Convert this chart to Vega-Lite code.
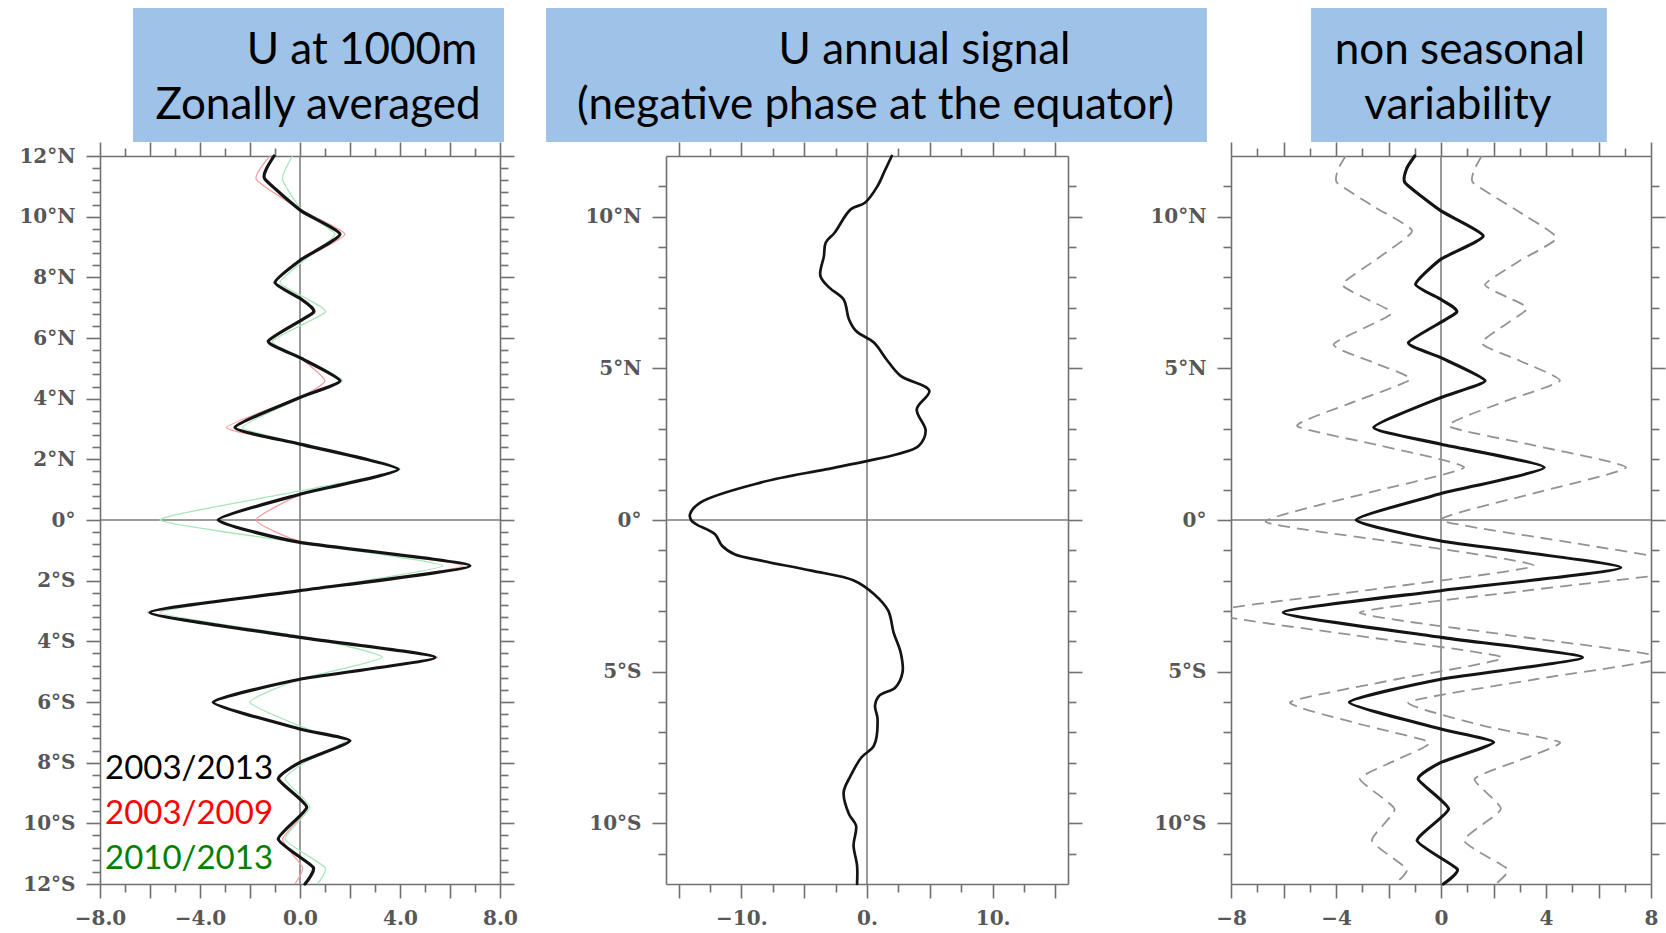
{
  "$schema": "https://vega.github.io/schema/vega-lite/v6.json",
  "background": "white",
  "autosize": {"type": "pad"},
  "padding": {"left": 18, "top": 7, "right": 0, "bottom": 0},
  "spacing": 0,
  "bounds": "flush",
  "config": {
    "view": {"stroke": null},
    "axis": {
      "grid": false,
      "title": null,
      "domainColor": "#707070",
      "domainWidth": 1.6,
      "tickColor": "#707070",
      "tickWidth": 1.6,
      "labelFont": "DejaVu Serif",
      "labelFontSize": 20,
      "labelFontWeight": "bold",
      "labelColor": "#575757",
      "labelFlush": false,
      "labelOverlap": false
    },
    "axisX": {"labelPadding": 10},
    "axisY": {"labelPadding": 11},
    "text": {"font": "Lato"}
  },
  "datasets": {
    "annual_mean": [
      {"lat": 12.0, "u": -1.04, "period": "2003/2013"},
      {"lat": 11.6, "u": -1.33, "period": "2003/2013"},
      {"lat": 11.23, "u": -1.4, "period": "2003/2013"},
      {"lat": 10.19, "u": 0.05, "period": "2003/2013"},
      {"lat": 9.42, "u": 1.6, "period": "2003/2013"},
      {"lat": 8.59, "u": 0.05, "period": "2003/2013"},
      {"lat": 7.83, "u": -1.0, "period": "2003/2013"},
      {"lat": 7.28, "u": 0.05, "period": "2003/2013"},
      {"lat": 6.84, "u": 0.53, "period": "2003/2013"},
      {"lat": 5.9, "u": -1.27, "period": "2003/2013"},
      {"lat": 5.35, "u": 0.0, "period": "2003/2013"},
      {"lat": 4.59, "u": 1.6, "period": "2003/2013"},
      {"lat": 4.04, "u": 0.0, "period": "2003/2013"},
      {"lat": 3.05, "u": -2.6, "period": "2003/2013"},
      {"lat": 2.5, "u": 0.0, "period": "2003/2013"},
      {"lat": 1.67, "u": 3.93, "period": "2003/2013"},
      {"lat": 0.85, "u": 0.0, "period": "2003/2013"},
      {"lat": 0.0, "u": -3.27, "period": "2003/2013"},
      {"lat": -0.74, "u": 0.0, "period": "2003/2013"},
      {"lat": -1.51, "u": 6.8, "period": "2003/2013"},
      {"lat": -2.33, "u": 0.0, "period": "2003/2013"},
      {"lat": -3.05, "u": -6.0, "period": "2003/2013"},
      {"lat": -3.87, "u": 0.0, "period": "2003/2013"},
      {"lat": -4.53, "u": 5.4, "period": "2003/2013"},
      {"lat": -5.25, "u": 0.0, "period": "2003/2013"},
      {"lat": -6.01, "u": -3.47, "period": "2003/2013"},
      {"lat": -6.89, "u": 0.0, "period": "2003/2013"},
      {"lat": -7.28, "u": 2.0, "period": "2003/2013"},
      {"lat": -7.99, "u": 0.0, "period": "2003/2013"},
      {"lat": -8.54, "u": -0.87, "period": "2003/2013"},
      {"lat": -9.47, "u": 0.27, "period": "2003/2013"},
      {"lat": -10.52, "u": -0.87, "period": "2003/2013"},
      {"lat": -11.45, "u": 0.53, "period": "2003/2013"},
      {"lat": -12.0, "u": 0.2, "period": "2003/2013"},

      {"lat": 12.0, "u": -1.2, "period": "2003/2009"},
      {"lat": 11.23, "u": -1.75, "period": "2003/2009"},
      {"lat": 10.19, "u": 0.1, "period": "2003/2009"},
      {"lat": 9.42, "u": 1.8, "period": "2003/2009"},
      {"lat": 8.59, "u": 0.1, "period": "2003/2009"},
      {"lat": 7.83, "u": -1.0, "period": "2003/2009"},
      {"lat": 7.28, "u": 0.1, "period": "2003/2009"},
      {"lat": 6.84, "u": 0.6, "period": "2003/2009"},
      {"lat": 5.9, "u": -1.2, "period": "2003/2009"},
      {"lat": 5.35, "u": 0.0, "period": "2003/2009"},
      {"lat": 4.59, "u": 1.0, "period": "2003/2009"},
      {"lat": 4.04, "u": 0.0, "period": "2003/2009"},
      {"lat": 3.05, "u": -2.95, "period": "2003/2009"},
      {"lat": 2.5, "u": 0.0, "period": "2003/2009"},
      {"lat": 1.67, "u": 3.9, "period": "2003/2009"},
      {"lat": 0.85, "u": 0.1, "period": "2003/2009"},
      {"lat": 0.0, "u": -1.75, "period": "2003/2009"},
      {"lat": -0.74, "u": 0.2, "period": "2003/2009"},
      {"lat": -1.51, "u": 6.5, "period": "2003/2009"},
      {"lat": -2.33, "u": 0.0, "period": "2003/2009"},
      {"lat": -3.05, "u": -6.1, "period": "2003/2009"},
      {"lat": -3.87, "u": 0.0, "period": "2003/2009"},
      {"lat": -4.53, "u": 5.5, "period": "2003/2009"},
      {"lat": -5.25, "u": 0.0, "period": "2003/2009"},
      {"lat": -6.01, "u": -3.5, "period": "2003/2009"},
      {"lat": -6.89, "u": 0.0, "period": "2003/2009"},
      {"lat": -7.28, "u": 2.0, "period": "2003/2009"},
      {"lat": -7.99, "u": 0.0, "period": "2003/2009"},
      {"lat": -8.54, "u": -0.8, "period": "2003/2009"},
      {"lat": -9.47, "u": 0.3, "period": "2003/2009"},
      {"lat": -10.52, "u": -0.7, "period": "2003/2009"},
      {"lat": -11.45, "u": 0.1, "period": "2003/2009"},
      {"lat": -12.0, "u": -0.2, "period": "2003/2009"},

      {"lat": 12.0, "u": -0.3, "period": "2010/2013"},
      {"lat": 11.23, "u": -0.7, "period": "2010/2013"},
      {"lat": 10.19, "u": 0.1, "period": "2010/2013"},
      {"lat": 9.42, "u": 1.4, "period": "2010/2013"},
      {"lat": 8.59, "u": 0.2, "period": "2010/2013"},
      {"lat": 7.83, "u": -0.8, "period": "2010/2013"},
      {"lat": 7.28, "u": 0.3, "period": "2010/2013"},
      {"lat": 6.84, "u": 1.0, "period": "2010/2013"},
      {"lat": 5.9, "u": -1.1, "period": "2010/2013"},
      {"lat": 5.35, "u": 0.1, "period": "2010/2013"},
      {"lat": 4.59, "u": 1.7, "period": "2010/2013"},
      {"lat": 4.04, "u": 0.1, "period": "2010/2013"},
      {"lat": 3.05, "u": -2.3, "period": "2010/2013"},
      {"lat": 2.5, "u": 0.2, "period": "2010/2013"},
      {"lat": 1.67, "u": 4.0, "period": "2010/2013"},
      {"lat": 0.85, "u": -0.7, "period": "2010/2013"},
      {"lat": 0.0, "u": -5.6, "period": "2010/2013"},
      {"lat": -0.74, "u": -0.1, "period": "2010/2013"},
      {"lat": -1.51, "u": 5.7, "period": "2010/2013"},
      {"lat": -2.33, "u": 0.0, "period": "2010/2013"},
      {"lat": -3.05, "u": -5.6, "period": "2010/2013"},
      {"lat": -3.87, "u": 0.3, "period": "2010/2013"},
      {"lat": -4.53, "u": 3.3, "period": "2010/2013"},
      {"lat": -5.25, "u": 0.0, "period": "2010/2013"},
      {"lat": -6.01, "u": -2.0, "period": "2010/2013"},
      {"lat": -6.89, "u": 0.3, "period": "2010/2013"},
      {"lat": -7.28, "u": 1.8, "period": "2010/2013"},
      {"lat": -7.99, "u": 0.2, "period": "2010/2013"},
      {"lat": -8.54, "u": -0.6, "period": "2010/2013"},
      {"lat": -9.47, "u": 0.4, "period": "2010/2013"},
      {"lat": -10.52, "u": -0.6, "period": "2010/2013"},
      {"lat": -11.45, "u": 1.0, "period": "2010/2013"},
      {"lat": -12.0, "u": 0.7, "period": "2010/2013"}
    ],
    "annual_signal": [
      {"lat": 12.0, "u": 1.97}, {"lat": 11.5, "u": 1.4}, {"lat": 11.01, "u": 0.84},
      {"lat": 10.46, "u": -0.16}, {"lat": 10.24, "u": -1.3}, {"lat": 9.47, "u": -2.58},
      {"lat": 9.14, "u": -3.29}, {"lat": 8.7, "u": -3.43}, {"lat": 8.05, "u": -3.71},
      {"lat": 7.66, "u": -3.0}, {"lat": 7.27, "u": -1.86}, {"lat": 6.62, "u": -1.44},
      {"lat": 6.23, "u": -0.87}, {"lat": 5.85, "u": 0.55}, {"lat": 5.3, "u": 1.54},
      {"lat": 4.75, "u": 2.68}, {"lat": 4.26, "u": 4.96}, {"lat": 3.65, "u": 3.96},
      {"lat": 2.94, "u": 4.67}, {"lat": 2.44, "u": 4.11}, {"lat": 2.17, "u": 2.4},
      {"lat": 1.95, "u": 0.07}, {"lat": 1.67, "u": -3.29}, {"lat": 1.24, "u": -8.41},
      {"lat": 0.58, "u": -13.24}, {"lat": 0.19, "u": -14.09}, {"lat": 0.0, "u": -14.0},
      {"lat": -0.14, "u": -13.6}, {"lat": -0.47, "u": -12.1}, {"lat": -0.85, "u": -11.54},
      {"lat": -1.13, "u": -10.54}, {"lat": -1.34, "u": -8.41}, {"lat": -1.67, "u": -4.43},
      {"lat": -2.0, "u": -1.01}, {"lat": -2.44, "u": 0.55}, {"lat": -2.99, "u": 1.69},
      {"lat": -3.71, "u": 2.12}, {"lat": -4.37, "u": 2.68}, {"lat": -5.02, "u": 2.83},
      {"lat": -5.52, "u": 2.26}, {"lat": -5.79, "u": 0.98}, {"lat": -6.12, "u": 0.64},
      {"lat": -6.56, "u": 0.84}, {"lat": -7.44, "u": 0.55}, {"lat": -7.83, "u": -0.45},
      {"lat": -8.43, "u": -1.3}, {"lat": -8.98, "u": -1.86}, {"lat": -9.69, "u": -1.44},
      {"lat": -10.08, "u": -0.87}, {"lat": -10.73, "u": -1.07}, {"lat": -11.39, "u": -0.79},
      {"lat": -12.0, "u": -0.79}
    ],
    "nonseasonal": [
      {"lat": 12.0, "u": -1.0, "curve": "anomaly"},
      {"lat": 11.6, "u": -1.3, "curve": "anomaly"},
      {"lat": 11.12, "u": -1.37, "curve": "anomaly"},
      {"lat": 10.19, "u": 0.0, "curve": "anomaly"},
      {"lat": 9.36, "u": 1.61, "curve": "anomaly"},
      {"lat": 8.6, "u": 0.0, "curve": "anomaly"},
      {"lat": 7.77, "u": -0.97, "curve": "anomaly"},
      {"lat": 7.27, "u": 0.0, "curve": "anomaly"},
      {"lat": 6.84, "u": 0.59, "curve": "anomaly"},
      {"lat": 5.85, "u": -1.24, "curve": "anomaly"},
      {"lat": 5.35, "u": 0.0, "curve": "anomaly"},
      {"lat": 4.59, "u": 1.68, "curve": "anomaly"},
      {"lat": 4.04, "u": 0.0, "curve": "anomaly"},
      {"lat": 3.05, "u": -2.56, "curve": "anomaly"},
      {"lat": 2.5, "u": 0.0, "curve": "anomaly"},
      {"lat": 1.73, "u": 3.93, "curve": "anomaly"},
      {"lat": 0.87, "u": 0.0, "curve": "anomaly"},
      {"lat": 0.0, "u": -3.23, "curve": "anomaly"},
      {"lat": -0.69, "u": 0.0, "curve": "anomaly"},
      {"lat": -1.57, "u": 6.85, "curve": "anomaly"},
      {"lat": -2.33, "u": 0.0, "curve": "anomaly"},
      {"lat": -3.05, "u": -6.01, "curve": "anomaly"},
      {"lat": -3.87, "u": 0.0, "curve": "anomaly"},
      {"lat": -4.53, "u": 5.39, "curve": "anomaly"},
      {"lat": -5.25, "u": 0.0, "curve": "anomaly"},
      {"lat": -6.01, "u": -3.49, "curve": "anomaly"},
      {"lat": -6.89, "u": 0.0, "curve": "anomaly"},
      {"lat": -7.33, "u": 2.01, "curve": "anomaly"},
      {"lat": -7.99, "u": 0.0, "curve": "anomaly"},
      {"lat": -8.54, "u": -0.87, "curve": "anomaly"},
      {"lat": -9.53, "u": 0.29, "curve": "anomaly"},
      {"lat": -10.57, "u": -0.91, "curve": "anomaly"},
      {"lat": -11.51, "u": 0.62, "curve": "anomaly"},
      {"lat": -12.0, "u": 0.09, "curve": "anomaly"},

      {"lat": 12.0, "u": -3.63, "curve": "minus_std"},
      {"lat": 11.6, "u": -3.9, "curve": "minus_std"},
      {"lat": 11.12, "u": -3.96, "curve": "minus_std"},
      {"lat": 10.3, "u": -2.5, "curve": "minus_std"},
      {"lat": 9.53, "u": -1.1, "curve": "minus_std"},
      {"lat": 8.6, "u": -2.45, "curve": "minus_std"},
      {"lat": 7.77, "u": -3.76, "curve": "minus_std"},
      {"lat": 7.27, "u": -2.8, "curve": "minus_std"},
      {"lat": 6.79, "u": -1.9, "curve": "minus_std"},
      {"lat": 5.79, "u": -4.09, "curve": "minus_std"},
      {"lat": 5.2, "u": -2.6, "curve": "minus_std"},
      {"lat": 4.64, "u": -1.17, "curve": "minus_std"},
      {"lat": 3.9, "u": -3.3, "curve": "minus_std"},
      {"lat": 3.1, "u": -5.48, "curve": "minus_std"},
      {"lat": 2.45, "u": -2.3, "curve": "minus_std"},
      {"lat": 1.73, "u": 0.88, "curve": "minus_std"},
      {"lat": 0.87, "u": -2.9, "curve": "minus_std"},
      {"lat": -0.06, "u": -6.68, "curve": "minus_std"},
      {"lat": -0.75, "u": -1.6, "curve": "minus_std"},
      {"lat": -1.51, "u": 3.54, "curve": "minus_std"},
      {"lat": -2.3, "u": -2.7, "curve": "minus_std"},
      {"lat": -3.05, "u": -8.9, "curve": "minus_std"},
      {"lat": -3.8, "u": -3.3, "curve": "minus_std"},
      {"lat": -4.53, "u": 2.34, "curve": "minus_std"},
      {"lat": -5.25, "u": -1.7, "curve": "minus_std"},
      {"lat": -6.01, "u": -5.75, "curve": "minus_std"},
      {"lat": -6.75, "u": -3.0, "curve": "minus_std"},
      {"lat": -7.33, "u": -0.44, "curve": "minus_std"},
      {"lat": -7.95, "u": -1.8, "curve": "minus_std"},
      {"lat": -8.54, "u": -3.09, "curve": "minus_std"},
      {"lat": -9.53, "u": -1.77, "curve": "minus_std"},
      {"lat": -10.57, "u": -2.63, "curve": "minus_std"},
      {"lat": -11.51, "u": -1.3, "curve": "minus_std"},
      {"lat": -12.0, "u": -1.77, "curve": "minus_std"},

      {"lat": 12.0, "u": 1.55, "curve": "plus_std"},
      {"lat": 11.6, "u": 1.3, "curve": "plus_std"},
      {"lat": 11.12, "u": 1.22, "curve": "plus_std"},
      {"lat": 10.25, "u": 2.8, "curve": "plus_std"},
      {"lat": 9.31, "u": 4.4, "curve": "plus_std"},
      {"lat": 8.55, "u": 3.0, "curve": "plus_std"},
      {"lat": 7.77, "u": 1.68, "curve": "plus_std"},
      {"lat": 7.35, "u": 2.5, "curve": "plus_std"},
      {"lat": 6.95, "u": 3.27, "curve": "plus_std"},
      {"lat": 5.85, "u": 1.55, "curve": "plus_std"},
      {"lat": 5.25, "u": 3.0, "curve": "plus_std"},
      {"lat": 4.59, "u": 4.53, "curve": "plus_std"},
      {"lat": 3.9, "u": 2.4, "curve": "plus_std"},
      {"lat": 3.1, "u": 0.29, "curve": "plus_std"},
      {"lat": 2.45, "u": 3.6, "curve": "plus_std"},
      {"lat": 1.73, "u": 7.05, "curve": "plus_std"},
      {"lat": 0.87, "u": 3.5, "curve": "plus_std"},
      {"lat": 0.0, "u": 0.0, "curve": "plus_std"},
      {"lat": -0.75, "u": 5.0, "curve": "plus_std"},
      {"lat": -1.57, "u": 10.1, "curve": "plus_std"},
      {"lat": -2.3, "u": 3.5, "curve": "plus_std"},
      {"lat": -3.05, "u": -3.09, "curve": "plus_std"},
      {"lat": -3.8, "u": 2.6, "curve": "plus_std"},
      {"lat": -4.53, "u": 8.45, "curve": "plus_std"},
      {"lat": -5.25, "u": 3.6, "curve": "plus_std"},
      {"lat": -6.01, "u": -1.24, "curve": "plus_std"},
      {"lat": -6.8, "u": 1.7, "curve": "plus_std"},
      {"lat": -7.33, "u": 4.53, "curve": "plus_std"},
      {"lat": -7.95, "u": 2.9, "curve": "plus_std"},
      {"lat": -8.54, "u": 1.28, "curve": "plus_std"},
      {"lat": -9.53, "u": 2.28, "curve": "plus_std"},
      {"lat": -10.57, "u": 0.88, "curve": "plus_std"},
      {"lat": -11.51, "u": 2.54, "curve": "plus_std"},
      {"lat": -12.0, "u": 2.08, "curve": "plus_std"}
    ]
  },
  "hconcat": [
    {
      "width": 400,
      "height": 728,
      "layer": [
        {
          "data": {"values": [{}]},
          "mark": {"type": "rule", "color": "#7a7a7a", "strokeWidth": 1.5},
          "encoding": {"x": {"datum": 0, "type": "quantitative", "scale": {"domain": [-8, 8], "nice": false, "zero": false}, "axis": null}}
        },
        {
          "data": {"values": [{}]},
          "mark": {"type": "rule", "color": "#7a7a7a", "strokeWidth": 1.5},
          "encoding": {"y": {"datum": 0, "type": "quantitative", "scale": {"domain": [-12, 12], "nice": false, "zero": false}, "axis": null}}
        },
        {
          "data": {"name": "annual_mean"},
          "transform": [{"filter": "datum.period === '2010/2013'"}],
          "mark": {"type": "line", "color": "#a8e6bb", "strokeWidth": 1.3, "interpolate": "cardinal", "tension": 0.5},
          "encoding": {
            "x": {"field": "u", "type": "quantitative", "scale": {"domain": [-8, 8], "nice": false, "zero": false},
                  "axis": {"orient": "bottom", "values": [-7, -5, -3, -1, 1, 3, 5, 7], "labels": false, "domain": false, "tickSize": 8}},
            "y": {"field": "lat", "type": "quantitative", "scale": {"domain": [-12, 12], "nice": false, "zero": false},
                  "axis": {"orient": "left", "labels": false, "domain": false, "tickSize": 8,
                           "values": [-11.6, -11.2, -10.8, -10.4, -9.6, -9.2, -8.8, -8.4, -7.6, -7.2, -6.8, -6.4, -5.6, -5.2, -4.8, -4.4, -3.6, -3.2, -2.8, -2.4, -1.6, -1.2, -0.8, -0.4, 0.4, 0.8, 1.2, 1.6, 2.4, 2.8, 3.2, 3.6, 4.4, 4.8, 5.2, 5.6, 6.4, 6.8, 7.2, 7.6, 8.4, 8.8, 9.2, 9.6, 10.4, 10.8, 11.2, 11.6]}},
            "order": {"field": "lat", "sort": "descending"}
          }
        },
        {
          "data": {"name": "annual_mean"},
          "transform": [{"filter": "datum.period === '2003/2009'"}],
          "mark": {"type": "line", "color": "#f4a0a0", "strokeWidth": 1.3, "interpolate": "cardinal", "tension": 0.5},
          "encoding": {
            "x": {"field": "u", "type": "quantitative", "scale": {"domain": [-8, 8], "nice": false, "zero": false},
                  "axis": {"orient": "top", "values": [-8, -6, -4, -2, 0, 2, 4, 6, 8], "labels": false, "tickSize": 14}},
            "y": {"field": "lat", "type": "quantitative", "scale": {"domain": [-12, 12], "nice": false, "zero": false},
                  "axis": {"orient": "right", "values": [-12, -10, -8, -6, -4, -2, 0, 2, 4, 6, 8, 10, 12], "labels": false, "tickSize": 14}},
            "order": {"field": "lat", "sort": "descending"}
          }
        },
        {
          "data": {"name": "annual_mean"},
          "transform": [{"filter": "datum.period === '2003/2013'"}],
          "mark": {"type": "line", "color": "#141414", "strokeWidth": 3.2, "strokeJoin": "round", "strokeCap": "round", "interpolate": "cardinal", "tension": 0.5},
          "encoding": {
            "x": {"field": "u", "type": "quantitative", "scale": {"domain": [-8, 8], "nice": false, "zero": false},
                  "axis": {"orient": "bottom", "values": [-8, -6, -4, -2, 0, 2, 4, 6, 8], "tickSize": 14,
                           "labelExpr": "datum.value % 4 === 0 ? format(datum.value, '.1f') : ''"}},
            "y": {"field": "lat", "type": "quantitative", "scale": {"domain": [-12, 12], "nice": false, "zero": false},
                  "axis": {"orient": "left", "values": [-12, -10, -8, -6, -4, -2, 0, 2, 4, 6, 8, 10, 12], "tickSize": 14,
                           "labelExpr": "datum.value === 0 ? '0°' : format(abs(datum.value), 'd') + (datum.value > 0 ? '°N' : '°S')"}},
            "order": {"field": "lat", "sort": "descending"}
          }
        },
        {
          "data": {"name": "annual_mean"},
          "transform": [{"filter": "datum.period === '2003/2013'"}],
          "mark": {"type": "line", "strokeOpacity": 0},
          "encoding": {
            "x": {"field": "u", "type": "quantitative", "scale": {"domain": [-8, 8], "nice": false, "zero": false},
                  "axis": {"orient": "top", "values": [-7, -5, -3, -1, 1, 3, 5, 7], "labels": false, "domain": false, "tickSize": 8}},
            "y": {"field": "lat", "type": "quantitative", "scale": {"domain": [-12, 12], "nice": false, "zero": false},
                  "axis": {"orient": "right", "labels": false, "domain": false, "tickSize": 8,
                           "values": [-11.6, -11.2, -10.8, -10.4, -9.6, -9.2, -8.8, -8.4, -7.6, -7.2, -6.8, -6.4, -5.6, -5.2, -4.8, -4.4, -3.6, -3.2, -2.8, -2.4, -1.6, -1.2, -0.8, -0.4, 0.4, 0.8, 1.2, 1.6, 2.4, 2.8, 3.2, 3.6, 4.4, 4.8, 5.2, 5.6, 6.4, 6.8, 7.2, 7.6, 8.4, 8.8, 9.2, 9.6, 10.4, 10.8, 11.2, 11.6]}},
            "order": {"field": "lat", "sort": "descending"}
          }
        },
        {
          "data": {"values": [{}]},
          "mark": {"type": "rect", "color": "#9fc3e8"},
          "encoding": {
            "x": {"datum": -6.68, "type": "quantitative", "scale": {"domain": [-8, 8], "nice": false, "zero": false}, "axis": null},
            "x2": {"datum": 8.16},
            "y": {"datum": 16.88, "type": "quantitative", "scale": {"domain": [-12, 12], "nice": false, "zero": false}, "axis": null},
            "y2": {"datum": 12.46}
          }
        },
        {
          "data": {"values": [{}]},
          "mark": {"type": "text", "text": "U at 1000m", "font": "Lato", "fontSize": 44, "align": "center", "baseline": "alphabetic", "color": "#000000"},
          "encoding": {
            "x": {"datum": 2.48, "type": "quantitative", "scale": {"domain": [-8, 8], "nice": false, "zero": false}, "axis": null},
            "y": {"datum": 15.03, "type": "quantitative", "scale": {"domain": [-12, 12], "nice": false, "zero": false}, "axis": null}
          }
        },
        {
          "data": {"values": [{}]},
          "mark": {"type": "text", "text": "Zonally averaged", "font": "Lato", "fontSize": 44, "align": "center", "baseline": "alphabetic", "color": "#000000"},
          "encoding": {
            "x": {"datum": 0.72, "type": "quantitative", "scale": {"domain": [-8, 8], "nice": false, "zero": false}, "axis": null},
            "y": {"datum": 13.22, "type": "quantitative", "scale": {"domain": [-12, 12], "nice": false, "zero": false}, "axis": null}
          }
        },
        {
          "data": {"values": [{}]},
          "mark": {"type": "text", "text": "2003/2013", "font": "Lato", "fontSize": 33, "align": "left", "baseline": "alphabetic", "color": "#000000"},
          "encoding": {
            "x": {"datum": -7.8, "type": "quantitative", "scale": {"domain": [-8, 8], "nice": false, "zero": false}, "axis": null},
            "y": {"datum": -8.54, "type": "quantitative", "scale": {"domain": [-12, 12], "nice": false, "zero": false}, "axis": null}
          }
        },
        {
          "data": {"values": [{}]},
          "mark": {"type": "text", "text": "2003/2009", "font": "Lato", "fontSize": 33, "align": "left", "baseline": "alphabetic", "color": "#ff0000"},
          "encoding": {
            "x": {"datum": -7.8, "type": "quantitative", "scale": {"domain": [-8, 8], "nice": false, "zero": false}, "axis": null},
            "y": {"datum": -10.02, "type": "quantitative", "scale": {"domain": [-12, 12], "nice": false, "zero": false}, "axis": null}
          }
        },
        {
          "data": {"values": [{}]},
          "mark": {"type": "text", "text": "2010/2013", "font": "Lato", "fontSize": 33, "align": "left", "baseline": "alphabetic", "color": "#008000"},
          "encoding": {
            "x": {"datum": -7.8, "type": "quantitative", "scale": {"domain": [-8, 8], "nice": false, "zero": false}, "axis": null},
            "y": {"datum": -11.51, "type": "quantitative", "scale": {"domain": [-12, 12], "nice": false, "zero": false}, "axis": null}
          }
        }
      ],
      "resolve": {"axis": {"x": "independent", "y": "independent"}}
    },
    {
      "width": 166,
      "height": 728,
      "data": {"values": []},
      "mark": {"type": "point", "opacity": 0}
    },
    {
      "width": 402,
      "height": 728,
      "layer": [
        {
          "data": {"values": [{}]},
          "mark": {"type": "rule", "color": "#7a7a7a", "strokeWidth": 1.5},
          "encoding": {"x": {"datum": 0, "type": "quantitative", "scale": {"domain": [-16, 16], "nice": false, "zero": false}, "axis": null}}
        },
        {
          "data": {"values": [{}]},
          "mark": {"type": "rule", "color": "#7a7a7a", "strokeWidth": 1.5},
          "encoding": {"y": {"datum": 0, "type": "quantitative", "scale": {"domain": [-12, 12], "nice": false, "zero": false}, "axis": null}}
        },
        {
          "data": {"name": "annual_signal"},
          "mark": {"type": "line", "strokeOpacity": 0},
          "encoding": {
            "x": {"field": "u", "type": "quantitative", "scale": {"domain": [-16, 16], "nice": false, "zero": false},
                  "axis": {"orient": "bottom", "values": [-12.5, -7.5, -2.5, 2.5, 7.5, 12.5], "labels": false, "domain": false, "tickSize": 8}},
            "y": {"field": "lat", "type": "quantitative", "scale": {"domain": [-12, 12], "nice": false, "zero": false},
                  "axis": {"orient": "left", "values": [-11, -9, -8, -7, -6, -4, -3, -2, -1, 1, 2, 3, 4, 6, 7, 8, 9, 11], "labels": false, "domain": false, "tickSize": 8}},
            "order": {"field": "lat", "sort": "descending"}
          }
        },
        {
          "data": {"name": "annual_signal"},
          "mark": {"type": "line", "strokeOpacity": 0},
          "encoding": {
            "x": {"field": "u", "type": "quantitative", "scale": {"domain": [-16, 16], "nice": false, "zero": false},
                  "axis": {"orient": "top", "values": [-15, -10, -5, 0, 5, 10, 15], "labels": false, "tickSize": 14}},
            "y": {"field": "lat", "type": "quantitative", "scale": {"domain": [-12, 12], "nice": false, "zero": false},
                  "axis": {"orient": "right", "values": [-10, -5, 0, 5, 10], "labels": false, "tickSize": 14}},
            "order": {"field": "lat", "sort": "descending"}
          }
        },
        {
          "data": {"name": "annual_signal"},
          "mark": {"type": "line", "strokeOpacity": 0},
          "encoding": {
            "x": {"field": "u", "type": "quantitative", "scale": {"domain": [-16, 16], "nice": false, "zero": false},
                  "axis": {"orient": "top", "values": [-12.5, -7.5, -2.5, 2.5, 7.5, 12.5], "labels": false, "domain": false, "tickSize": 8}},
            "y": {"field": "lat", "type": "quantitative", "scale": {"domain": [-12, 12], "nice": false, "zero": false},
                  "axis": {"orient": "right", "values": [-11, -9, -8, -7, -6, -4, -3, -2, -1, 1, 2, 3, 4, 6, 7, 8, 9, 11], "labels": false, "domain": false, "tickSize": 8}},
            "order": {"field": "lat", "sort": "descending"}
          }
        },
        {
          "data": {"name": "annual_signal"},
          "mark": {"type": "line", "color": "#141414", "strokeWidth": 2.7, "strokeJoin": "round", "strokeCap": "round", "interpolate": "catmull-rom"},
          "encoding": {
            "x": {"field": "u", "type": "quantitative", "scale": {"domain": [-16, 16], "nice": false, "zero": false},
                  "axis": {"orient": "bottom", "values": [-15, -10, -5, 0, 5, 10, 15], "tickSize": 14,
                           "labelExpr": "datum.value % 10 === 0 ? format(datum.value, 'd') + '.' : ''"}},
            "y": {"field": "lat", "type": "quantitative", "scale": {"domain": [-12, 12], "nice": false, "zero": false},
                  "axis": {"orient": "left", "values": [-10, -5, 0, 5, 10], "tickSize": 14,
                           "labelExpr": "datum.value === 0 ? '0°' : format(abs(datum.value), 'd') + (datum.value > 0 ? '°N' : '°S')"}},
            "order": {"field": "lat", "sort": "descending"}
          }
        },
        {
          "data": {"values": [{}]},
          "mark": {"type": "rect", "color": "#9fc3e8"},
          "encoding": {
            "x": {"datum": -25.55, "type": "quantitative", "scale": {"domain": [-16, 16], "nice": false, "zero": false}, "axis": null},
            "x2": {"datum": 27.06},
            "y": {"datum": 16.88, "type": "quantitative", "scale": {"domain": [-12, 12], "nice": false, "zero": false}, "axis": null},
            "y2": {"datum": 12.46}
          }
        },
        {
          "data": {"values": [{}]},
          "mark": {"type": "text", "text": "U annual signal", "font": "Lato", "fontSize": 44, "align": "center", "baseline": "alphabetic", "color": "#000000"},
          "encoding": {
            "x": {"datum": 4.58, "type": "quantitative", "scale": {"domain": [-16, 16], "nice": false, "zero": false}, "axis": null},
            "y": {"datum": 15.03, "type": "quantitative", "scale": {"domain": [-12, 12], "nice": false, "zero": false}, "axis": null}
          }
        },
        {
          "data": {"values": [{}]},
          "mark": {"type": "text", "text": "(negative phase at the equator)", "font": "Lato", "fontSize": 44, "align": "center", "baseline": "alphabetic", "color": "#000000"},
          "encoding": {
            "x": {"datum": 0.68, "type": "quantitative", "scale": {"domain": [-16, 16], "nice": false, "zero": false}, "axis": null},
            "y": {"datum": 13.22, "type": "quantitative", "scale": {"domain": [-12, 12], "nice": false, "zero": false}, "axis": null}
          }
        }
      ],
      "resolve": {"axis": {"x": "independent", "y": "independent"}}
    },
    {
      "width": 163,
      "height": 728,
      "data": {"values": []},
      "mark": {"type": "point", "opacity": 0}
    },
    {
      "width": 420,
      "height": 728,
      "layer": [
        {
          "data": {"values": [{}]},
          "mark": {"type": "rule", "color": "#7a7a7a", "strokeWidth": 1.5},
          "encoding": {"x": {"datum": 0, "type": "quantitative", "scale": {"domain": [-8, 8], "nice": false, "zero": false}, "axis": null}}
        },
        {
          "data": {"values": [{}]},
          "mark": {"type": "rule", "color": "#7a7a7a", "strokeWidth": 1.5},
          "encoding": {"y": {"datum": 0, "type": "quantitative", "scale": {"domain": [-12, 12], "nice": false, "zero": false}, "axis": null}}
        },
        {
          "data": {"name": "nonseasonal"},
          "transform": [{"filter": "datum.curve === 'minus_std'"}],
          "mark": {"type": "line", "color": "#939393", "strokeWidth": 1.8, "strokeDash": [12, 7], "clip": true, "interpolate": "cardinal", "tension": 0.5},
          "encoding": {
            "x": {"field": "u", "type": "quantitative", "scale": {"domain": [-8, 8], "nice": false, "zero": false},
                  "axis": {"orient": "bottom", "values": [-7, -5, -3, -1, 1, 3, 5, 7], "labels": false, "domain": false, "tickSize": 8}},
            "y": {"field": "lat", "type": "quantitative", "scale": {"domain": [-12, 12], "nice": false, "zero": false},
                  "axis": {"orient": "left", "values": [-11, -9, -8, -7, -6, -4, -3, -2, -1, 1, 2, 3, 4, 6, 7, 8, 9, 11], "labels": false, "domain": false, "tickSize": 8}},
            "order": {"field": "lat", "sort": "descending"}
          }
        },
        {
          "data": {"name": "nonseasonal"},
          "transform": [{"filter": "datum.curve === 'plus_std'"}],
          "mark": {"type": "line", "color": "#939393", "strokeWidth": 1.8, "strokeDash": [12, 7], "clip": true, "interpolate": "cardinal", "tension": 0.5},
          "encoding": {
            "x": {"field": "u", "type": "quantitative", "scale": {"domain": [-8, 8], "nice": false, "zero": false},
                  "axis": {"orient": "top", "values": [-8, -6, -4, -2, 0, 2, 4, 6, 8], "labels": false, "tickSize": 14}},
            "y": {"field": "lat", "type": "quantitative", "scale": {"domain": [-12, 12], "nice": false, "zero": false},
                  "axis": {"orient": "right", "values": [-10, -5, 0, 5, 10], "labels": false, "tickSize": 14}},
            "order": {"field": "lat", "sort": "descending"}
          }
        },
        {
          "data": {"name": "nonseasonal"},
          "transform": [{"filter": "datum.curve === 'anomaly'"}],
          "mark": {"type": "line", "color": "#141414", "strokeWidth": 3.1, "strokeJoin": "round", "strokeCap": "round", "interpolate": "cardinal", "tension": 0.5},
          "encoding": {
            "x": {"field": "u", "type": "quantitative", "scale": {"domain": [-8, 8], "nice": false, "zero": false},
                  "axis": {"orient": "bottom", "values": [-8, -6, -4, -2, 0, 2, 4, 6, 8], "tickSize": 14,
                           "labelExpr": "datum.value % 4 === 0 ? format(datum.value, 'd') : ''"}},
            "y": {"field": "lat", "type": "quantitative", "scale": {"domain": [-12, 12], "nice": false, "zero": false},
                  "axis": {"orient": "left", "values": [-10, -5, 0, 5, 10], "tickSize": 14,
                           "labelExpr": "datum.value === 0 ? '0°' : format(abs(datum.value), 'd') + (datum.value > 0 ? '°N' : '°S')"}},
            "order": {"field": "lat", "sort": "descending"}
          }
        },
        {
          "data": {"name": "nonseasonal"},
          "transform": [{"filter": "datum.curve === 'anomaly'"}],
          "mark": {"type": "line", "strokeOpacity": 0},
          "encoding": {
            "x": {"field": "u", "type": "quantitative", "scale": {"domain": [-8, 8], "nice": false, "zero": false},
                  "axis": {"orient": "top", "values": [-7, -5, -3, -1, 1, 3, 5, 7], "labels": false, "domain": false, "tickSize": 8}},
            "y": {"field": "lat", "type": "quantitative", "scale": {"domain": [-12, 12], "nice": false, "zero": false},
                  "axis": {"orient": "right", "values": [-11, -9, -8, -7, -6, -4, -3, -2, -1, 1, 2, 3, 4, 6, 7, 8, 9, 11], "labels": false, "domain": false, "tickSize": 8}},
            "order": {"field": "lat", "sort": "descending"}
          }
        },
        {
          "data": {"values": [{}]},
          "mark": {"type": "rect", "color": "#9fc3e8"},
          "encoding": {
            "x": {"datum": -4.95, "type": "quantitative", "scale": {"domain": [-8, 8], "nice": false, "zero": false}, "axis": null},
            "x2": {"datum": 6.32},
            "y": {"datum": 16.88, "type": "quantitative", "scale": {"domain": [-12, 12], "nice": false, "zero": false}, "axis": null},
            "y2": {"datum": 12.46}
          }
        },
        {
          "data": {"values": [{}]},
          "mark": {"type": "text", "text": "non seasonal", "font": "Lato", "fontSize": 44, "align": "center", "baseline": "alphabetic", "color": "#000000"},
          "encoding": {
            "x": {"datum": 0.72, "type": "quantitative", "scale": {"domain": [-8, 8], "nice": false, "zero": false}, "axis": null},
            "y": {"datum": 15.03, "type": "quantitative", "scale": {"domain": [-12, 12], "nice": false, "zero": false}, "axis": null}
          }
        },
        {
          "data": {"values": [{}]},
          "mark": {"type": "text", "text": "variability", "font": "Lato", "fontSize": 44, "align": "center", "baseline": "alphabetic", "color": "#000000"},
          "encoding": {
            "x": {"datum": 0.64, "type": "quantitative", "scale": {"domain": [-8, 8], "nice": false, "zero": false}, "axis": null},
            "y": {"datum": 13.22, "type": "quantitative", "scale": {"domain": [-12, 12], "nice": false, "zero": false}, "axis": null}
          }
        }
      ],
      "resolve": {"axis": {"x": "independent", "y": "independent"}}
    }
  ]
}
